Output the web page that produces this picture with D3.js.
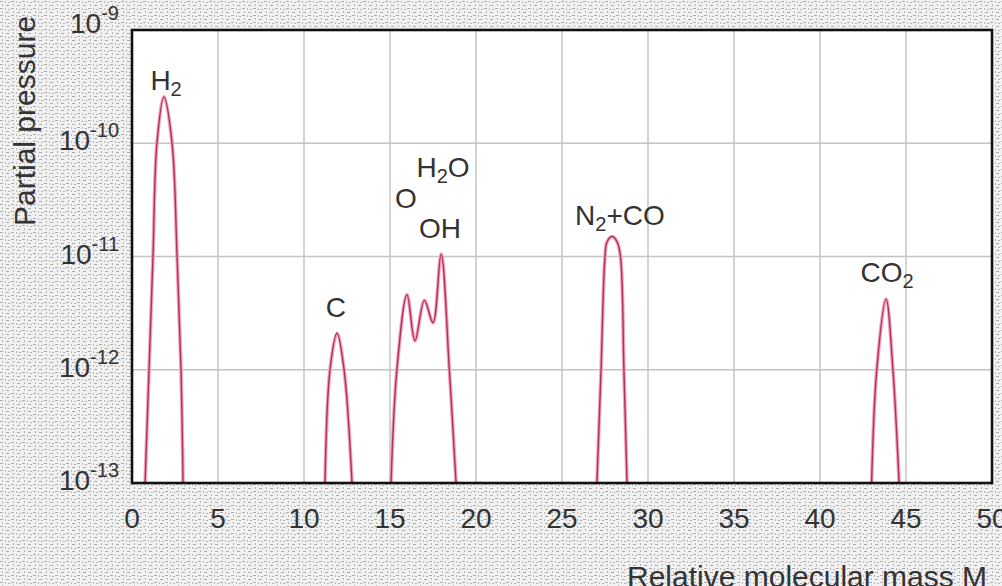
<!DOCTYPE html>
<html>
<head>
<meta charset="utf-8">
<script src="https://cdn.jsdelivr.net/npm/d3@7"></script>
<style>
  body { margin: 0; background: #fff; }
  svg { display: block; font-family: "Liberation Sans", Arial, sans-serif; }
</style>
</head>
<body>
<div id="chart"></div>
<script>
// tick values
var massTicks = [0, 5, 10, 15, 20, 25, 30, 35, 40, 45, 50];
var pressureExps = [-13, -12, -11, -10, -9];

// peaks: [mass, partial pressure]
var h2Peak = [[0.76, 1e-13], [0.99, 1e-12], [1.22, 1e-11], [1.45, 1e-10], [1.86, 2.57e-10],
              [2.33, 1e-10], [2.62, 1e-11], [2.85, 1e-12], [2.97, 1e-13]];
var cPeak = [[11.22, 1e-13], [11.51, 1e-12], [11.92, 2.1e-12], [12.33, 1e-12], [12.79, 1e-13]];
var waterPeaks = [[15.06, 1e-13], [15.4, 1e-12], [15.99, 4.6e-12], [16.45, 1.8e-12], [17.0, 4.1e-12],
                  [17.5, 2.6e-12], [17.97, 1.05e-11], [18.45, 1e-12], [18.84, 1e-13]];
var n2coPeak = [[27.03, 1e-13], [27.27, 1e-12], [27.5, 1e-11], [27.62, 1.35e-11], [27.92, 1.5e-11],
                [28.2, 1.35e-11], [28.4, 1e-11], [28.6, 1e-12], [28.78, 1e-13]];
var co2Peak = [[43.0, 1e-13], [43.3, 1e-12], [43.84, 4.2e-12], [44.24, 1e-12], [44.6, 1e-13]];

var peaks = [h2Peak, cPeak, waterPeaks, n2coPeak, co2Peak];

// peak labels: text, subscript, rest, anchor mass, anchor pressure
var labelText = ["H", "C", "O", "OH", "H", "N", "CO"];
var labelSub = ["2", "", "", "", "2", "2", "2"];
var labelRest = ["", "", "", "", "O", "+CO", ""];
var labelMass = [1.98, 11.86, 15.93, 17.91, 18.08, 28.37, 43.9];
var labelPressure = [2.95e-10, 2.95e-12, 2.7e-11, 1.45e-11, 5.0e-11, 1.9e-11, 5.9e-12];

var W = 1002, H = 586;
var margin = {top: 30, right: 10, bottom: 103, left: 132};

var svg = d3.select("#chart").append("svg")
  .attr("width", W)
  .attr("height", H);

// speckled grey background like the scanned figure
var defs = svg.append("defs");
var pat = defs.append("pattern")
  .attr("id", "speckle")
  .attr("patternUnits", "userSpaceOnUse")
  .attr("width", 11).attr("height", 7);
pat.append("rect").attr("width", 11).attr("height", 7).attr("fill", "#f1f1f1");
pat.append("rect").attr("x", 0).attr("y", 1).attr("width", 3).attr("height", 1).attr("fill", "#acacac");
pat.append("rect").attr("x", 5).attr("y", 1).attr("width", 1).attr("height", 2).attr("fill", "#bababa");
pat.append("rect").attr("x", 8).attr("y", 2).attr("width", 2).attr("height", 1).attr("fill", "#b2b2b2");
pat.append("rect").attr("x", 2).attr("y", 4).attr("width", 1).attr("height", 2).attr("fill", "#b6b6b6");
pat.append("rect").attr("x", 6).attr("y", 5).attr("width", 3).attr("height", 1).attr("fill", "#aaaaaa");

svg.append("rect").attr("width", W).attr("height", H).attr("fill", "url(#speckle)");

var x = d3.scaleLinear().domain([0, 50]).range([margin.left, W - margin.right]);
var y = d3.scaleLog().domain([1e-13, 1e-9]).range([H - margin.bottom, margin.top]);

// plot area
svg.append("rect")
  .attr("x", x(0)).attr("y", y(1e-9))
  .attr("width", x(50) - x(0)).attr("height", y(1e-13) - y(1e-9))
  .attr("fill", "#fff");

defs.append("clipPath").attr("id", "plotclip")
  .append("rect")
  .attr("x", x(0)).attr("y", y(1e-9))
  .attr("width", x(50) - x(0)).attr("height", y(1e-13) - y(1e-9));

// grid
svg.append("g").selectAll("line.vx")
  .data(massTicks.slice(1, -1))
  .enter().append("line")
  .attr("x1", d => x(d)).attr("x2", d => x(d))
  .attr("y1", y(1e-9)).attr("y2", y(1e-13))
  .style("stroke", "#c4c4c4").style("stroke-width", 1.5);

svg.append("g").selectAll("line.hy")
  .data(pressureExps.slice(1, -1))
  .enter().append("line")
  .attr("x1", x(0)).attr("x2", x(50))
  .attr("y1", d => y(Math.pow(10, d))).attr("y2", d => y(Math.pow(10, d)))
  .style("stroke", "#c4c4c4").style("stroke-width", 1.5);

// peaks
var line = d3.line()
  .x(d => x(d[0]))
  .y(d => y(d[1]))
  .curve(d3.curveCatmullRom.alpha(0.5));

var peakG = svg.append("g").attr("clip-path", "url(#plotclip)");
peakG.selectAll("path.halo")
  .data(peaks)
  .enter().append("path")
  .attr("d", line)
  .style("fill", "none").style("stroke", "#f3a3bb").style("stroke-width", 3.6);
peakG.selectAll("path.core")
  .data(peaks)
  .enter().append("path")
  .attr("d", line)
  .style("fill", "none").style("stroke", "#b42f5c").style("stroke-width", 1.4);

// frame
svg.append("rect")
  .attr("x", x(0)).attr("y", y(1e-9))
  .attr("width", x(50) - x(0)).attr("height", y(1e-13) - y(1e-9))
  .style("fill", "none").style("stroke", "#111").style("stroke-width", 2.6);

// x tick labels
svg.append("g").selectAll("text")
  .data(massTicks)
  .enter().append("text")
  .attr("x", d => x(d))
  .attr("y", 528)
  .attr("text-anchor", "middle")
  .style("font-size", "28px")
  .style("fill", "#333")
  .text(d => d);

// y tick labels 10^n
var yt = svg.append("g").selectAll("text")
  .data(pressureExps)
  .enter().append("text")
  .attr("x", 119)
  .attr("y", d => y(Math.pow(10, d)) + (d == -9 ? 3 : 7))
  .attr("text-anchor", "end")
  .style("font-size", "28px")
  .style("fill", "#333");
yt.append("tspan").text("10");
yt.append("tspan").attr("dy", -13).style("font-size", "20px").text(d => "-" + (-d));

// peak labels
var lab = svg.append("g").selectAll("text")
  .data(labelText)
  .enter().append("text")
  .attr("x", (d, i) => x(labelMass[i]))
  .attr("y", (d, i) => y(labelPressure[i]))
  .attr("text-anchor", "middle")
  .style("font-size", "28px")
  .style("fill", "#333");
lab.append("tspan").text(d => d);
lab.append("tspan").attr("dy", 6).style("font-size", "20px").text((d, i) => labelSub[i]);
lab.append("tspan").attr("dy", (d, i) => labelSub[i] ? -6 : 0).text((d, i) => labelRest[i]);

// axis titles
svg.append("text")
  .attr("x", 627).attr("y", 587)
  .style("font-size", "30px")
  .style("fill", "#333")
  .text("Relative molecular mass M");

svg.append("text")
  .attr("transform", "translate(35,226) rotate(-90)")
  .style("font-size", "30px")
  .style("fill", "#333")
  .text("Partial pressure");
</script>
</body>
</html>
